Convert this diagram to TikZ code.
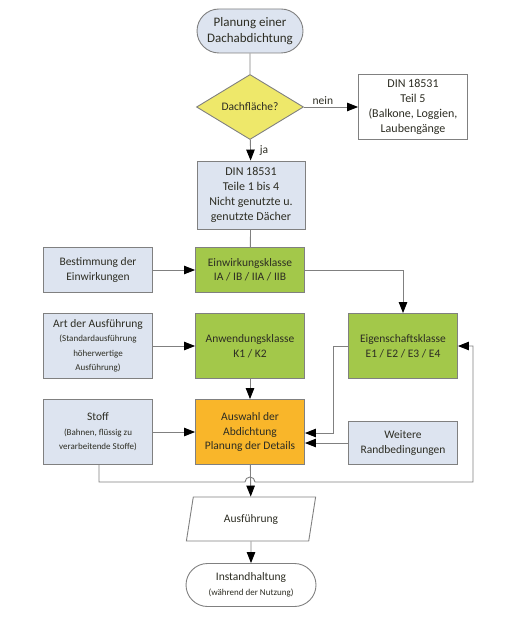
\documentclass[tikz,border=0pt]{standalone}
\usepackage{fontspec}
\setmainfont{Carlito}
\usepackage{tikz}
\usetikzlibrary{shapes,arrows.meta,positioning,calc}

\definecolor{bluefill}{RGB}{221,228,240}
\definecolor{greenfill}{RGB}{163,200,74}
\definecolor{orangefill}{RGB}{249,182,42}
\definecolor{yellowfill}{RGB}{238,232,106}
\definecolor{linegray}{RGB}{128,128,128}
\definecolor{textcol}{RGB}{45,45,35}

\tikzset{
  base/.style={draw=linegray, line width=0.9pt, text=textcol, align=center, inner sep=0pt,
    font=\fontsize{11.5}{14.5}\selectfont},
  bluebox/.style={base, fill=bluefill, minimum width=109pt, minimum height=65pt},
  greenbox/.style={base, fill=greenfill, minimum width=109pt, minimum height=65pt},
  orangebox/.style={base, fill=orangefill, minimum width=109pt, minimum height=65pt},
  whitebox/.style={base, fill=white, minimum width=109pt, minimum height=65pt},
  terminal/.style={base, rounded rectangle, fill=white},
  small/.style={font=\fontsize{9}{13}\selectfont},
  arr/.style={draw=linegray, line width=0.9pt, -{Triangle[length=11pt,width=8.5pt,color=black]}},
  ln/.style={draw=linegray, line width=0.9pt}
}

\begin{document}
\begin{tikzpicture}[x=1pt,y=-1pt]
\useasboundingbox (0,0) rectangle (514,617);

% top part
\node[terminal, fill=bluefill, minimum width=106pt, minimum height=44pt,
  font=\fontsize{13}{16}\selectfont] (start) at (250,31) {Planung einer\\Dachabdichtung};
\node[base, diamond, fill=yellowfill, minimum width=107pt, minimum height=63pt] (dach) at (250,107) {Dachfläche?};
\node[whitebox, font=\fontsize{12}{15}\selectfont] (teil5) at (413,107) {DIN 18531\\Teil 5\\(Balkone, Loggien,\\Laubengänge};
\node[bluebox, minimum width=108pt, minimum height=68pt, font=\fontsize{12}{15}\selectfont] (din) at (251,195) {DIN 18531\\Teile 1 bis 4\\Nicht genutzte u.\\genutzte Dächer};

% classes
\node[bluebox, minimum height=45pt] (bestimmung) at (98,270) {Bestimmung der\\Einwirkungen};
\node[greenbox, minimum height=45pt] (einw) at (250,270) {Einwirkungsklasse\\IA / IB / IIA / IIB};
\node[bluebox] (art) at (98,346) {Art der Ausführung\\{\small (Standardausführung}\\{\small höherwertige}\\{\small Ausführung)}};
\node[greenbox] (anw) at (250,346) {Anwendungsklasse\\K1 / K2};
\node[greenbox] (eig) at (403,346) {Eigenschaftsklasse\\E1 / E2 / E3 / E4};

% selection
\node[bluebox] (stoff) at (98,432) {Stoff\\{\small (Bahnen, flüssig zu}\\{\small verarbeitende Stoffe)}};
\node[orangebox] (ausw) at (250,432) {Auswahl der\\Abdichtung\\Planung der Details};
\node[bluebox, minimum height=43pt] (weitere) at (403,443) {Weitere\\Randbedingungen};

% bottom part
\node[base, trapezium, trapezium left angle=72, trapezium right angle=108, fill=white,
  minimum width=130pt, minimum height=44pt, trapezium stretches=true] (ausf) at (251,519) {Ausführung};
\node[terminal, minimum width=130pt, minimum height=43pt] (instand) at (251,585) {Instandhaltung\\{\small (während der Nutzung)}};

\coordinate (ek) at (333,433);
\coordinate (sl) at (99,482);
\coordinate (sr) at (473,482);

% connectors
\draw[ln] (start) -- (dach);
\draw[arr] (dach) -- node[above, base, draw=none, pos=0.35, yshift=2pt] {nein} (teil5);
\draw[arr] (dach) -- node[right, base, draw=none, xshift=9pt] {ja} (din);
\draw[ln] (din) -- (einw);
\draw[arr] (bestimmung) -- (einw);
\draw[arr] (einw.east) -| (eig.north);
\draw[arr] (art) -- (anw);
\draw[arr] (anw) -- (ausw);
\draw[arr] (eig.west) -| (ek) -- (ausw.east |- ek);
\draw[arr] (weitere) -- (ausw.east |- weitere);
\draw[arr] (stoff) -- (ausw);
\draw[arr] (stoff.south -| sl) -- (sl) -- (245,482) arc (180:360:5) -- (sr) |- (eig.east);
\draw[arr] (ausw) -- (ausf);
\draw[arr] (ausf) -- (instand);
\end{tikzpicture}
\end{document}
